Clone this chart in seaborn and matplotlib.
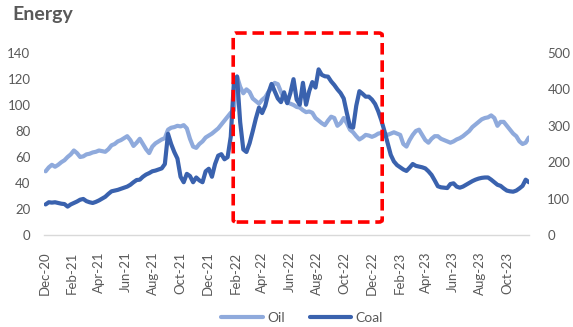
import numpy as np
import pandas as pd
import matplotlib
matplotlib.use("Agg")
import matplotlib.pyplot as plt
import matplotlib.dates as mdates
from matplotlib.patches import FancyBboxPatch
import seaborn as sns

# Weekly observations (Friday closes)
week_start = "2020-12-04"
n_weeks = 155

# Brent oil, USD/bbl (left axis)
oil = [49, 52, 54, 52.5, 54, 56, 57.5, 60, 62, 65,
       63, 60, 60.5, 62, 62.5, 63.5, 64, 65, 64.5, 64,
       66, 69, 70, 72, 73, 74.5, 76, 73, 68.5, 71,
       74, 70, 66, 63, 68, 70.5, 72, 73.5, 74.5, 81,
       82.5, 83, 84, 83.5, 84.5, 82, 74, 68, 67, 70,
       72, 75, 76.5, 78, 80, 82, 85, 88, 91, 94,
       96, 122, 114, 109, 112, 110, 105, 103, 101, 104,
       106, 110, 113, 117, 116, 110, 105, 102, 101, 100,
       98.5, 98, 96, 94.5, 95, 94, 90, 88, 86, 84.5,
       88, 91, 90, 84, 86, 90, 86, 81, 79, 76,
       73.5, 75, 77, 76.5, 75.5, 76.5, 78, 78.5, 78, 77,
       78, 79, 78, 77, 70, 68, 73, 77, 80, 81,
       77, 73, 71, 74, 76, 76, 74, 73, 72, 71,
       72, 73.5, 74.5, 76, 78, 80, 83, 85, 87, 89,
       90, 90.5, 92, 90, 84, 87, 87, 84, 81, 78,
       76, 72, 70, 71, 75]

# Newcastle coal, USD/t (right axis)
coal = [84, 90, 89, 90, 88, 86, 85, 78, 84, 88,
        92, 97, 99, 93, 90, 88, 91, 95, 100, 105,
        113, 120, 122, 124, 127, 130, 133, 138, 145, 151,
        152, 160, 166, 170, 175, 177, 180, 183, 195, 278,
        250, 228, 210, 160, 145, 168, 162, 145, 158, 150,
        145, 175, 182, 160, 195, 218, 222, 208, 214, 270,
        420, 435, 310, 235, 228, 252, 285, 320, 350, 335,
        355, 390, 415, 395, 375, 365, 392, 362, 390, 428,
        372, 358, 418, 358, 395, 420, 405, 455, 440, 436,
        435, 422, 412, 400, 390, 375, 335, 298, 295, 355,
        395, 388, 380, 380, 372, 360, 340, 315, 285, 252,
        220, 202, 192, 186, 180, 176, 185, 195, 190, 188,
        186, 183, 175, 165, 150, 134, 131, 130, 129, 140,
        142, 133, 130, 133, 138, 143, 148, 152, 155, 157,
        158, 158, 152, 145, 138, 135, 128, 122, 120, 119,
        122, 128, 135, 152, 145]

dates = pd.date_range(week_start, periods=n_weeks, freq="7D")
df = pd.DataFrame({"date": dates, "Oil": oil, "Coal": coal})

oil_color = "#8FAADC"
coal_color = "#3A62AE"
text_color = "#595959"
axis_color = "#D9D9D9"

sns.set_theme(style="white")
plt.rcParams["font.family"] = ["Lato", "DejaVu Sans"]

fig = plt.figure(figsize=(5.73, 3.27), dpi=100)
ax = fig.add_axes([0.0773, 0.2813, 0.8464, 0.5567])
ax2 = ax.twinx()

sns.lineplot(data=df, x="date", y="Oil", ax=ax, color=oil_color,
             linewidth=3.0, label="Oil", legend=False)
sns.lineplot(data=df, x="date", y="Coal", ax=ax2, color=coal_color,
             linewidth=3.0, label="Coal", legend=False)

ax.set_xlim(pd.Timestamp("2020-12-01"), pd.Timestamp("2023-11-18"))
ax.set_ylim(0, 140)
ax2.set_ylim(0, 500)
ax.set_yticks(np.arange(0, 141, 20))
ax2.set_yticks(np.arange(0, 501, 100))
ax.set_xlabel("")
ax.set_ylabel("")
ax2.set_ylabel("")

ax.xaxis.set_major_locator(mdates.MonthLocator(bymonth=[2, 4, 6, 8, 10, 12]))
ax.xaxis.set_major_formatter(mdates.DateFormatter("%b-%y"))
for lab in ax.get_xticklabels():
    lab.set_rotation(90)

for a in (ax, ax2):
    for s in a.spines.values():
        s.set_visible(False)
    a.grid(False)
ax.spines["bottom"].set_visible(True)
ax.spines["bottom"].set_color(axis_color)
ax.spines["bottom"].set_linewidth(1.0)

ax.tick_params(axis="x", colors=axis_color, labelcolor=text_color,
               labelsize=9.5, length=4, width=1, direction="out", pad=8)
ax.tick_params(axis="y", labelcolor=text_color, labelsize=9.5, length=0, pad=10)
ax2.tick_params(axis="y", labelcolor=text_color, labelsize=9.5, length=0, pad=13)

fig.text(0.021, 0.955, "Energy", fontsize=14, fontweight="bold",
         color=text_color, ha="left", va="center")

# Highlight box around the 2022 energy shock
box = FancyBboxPatch((0.407, 0.321), 0.260, 0.578,
                     boxstyle="round,pad=0,rounding_size=0.006",
                     transform=fig.transFigure, fill=False,
                     edgecolor="#FF0000", linewidth=2.6,
                     linestyle=(0, (3.2, 1.6)), clip_on=False)
fig.patches.append(box)

handles = ax.get_lines()[:1] + ax2.get_lines()[:1]
fig.legend(handles, ["Oil", "Coal"], loc="center", bbox_to_anchor=(0.527, 0.027),
           ncol=2, frameon=False, fontsize=10, handlelength=3.0,
           handletextpad=0.3, columnspacing=1.8, labelcolor=text_color)

fig.savefig("out.png", dpi=100)
